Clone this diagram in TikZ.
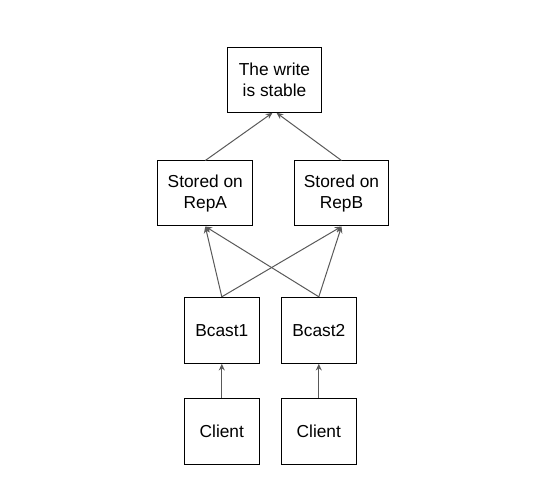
\documentclass[tikz,border=0pt]{standalone}
\usepackage{fontspec}
\setmainfont{Liberation Sans}
\usetikzlibrary{arrows.meta}
\definecolor{linegray}{HTML}{595959}
\begin{document}
\begin{tikzpicture}[x=0.75pt,y=-0.75pt,
  box/.style={draw=black,line width=0.75pt,align=center,inner sep=0pt,
    font=\fontsize{13}{15.5}\selectfont,minimum height=48.75pt},
  wide/.style={box,minimum width=71pt},
  narrow/.style={box,minimum width=56.25pt,minimum height=49.5pt},
  conn/.style={draw=linegray,line width=0.75pt,-{Stealth[length=5pt,width=4.5pt]}}]
\useasboundingbox (0,0) rectangle (553,484);
\node[wide] (top) at (274.5,79.8) {The write\\is stable};
\node[wide] (repA) at (205.3,193.5) {Stored on\\RepA};
\node[wide] (repB) at (341.5,193.5) {Stored on\\RepB};
\node[narrow] (b1) at (221.8,330.3) {Bcast1};
\node[narrow] (b2) at (318.8,330.3) {Bcast2};
\node[narrow] (c1) at (221.8,431.3) {Client};
\node[narrow] (c2) at (318.8,431.3) {Client};
\draw[conn] (repA.north) -- ([xshift=-1.5pt]top.south);
\draw[conn] (repB.north) -- ([xshift=1.5pt]top.south);
\draw[conn] (b1.north) -- (repA.south);
\draw[conn] (b1.north) -- (repB.south);
\draw[conn] (b2.north) -- (repA.south);
\draw[conn] (b2.north) -- (repB.south);
\draw[conn] (c1.north) -- (b1.south);
\draw[conn] (c2.north) -- (b2.south);
\end{tikzpicture}
\end{document}
